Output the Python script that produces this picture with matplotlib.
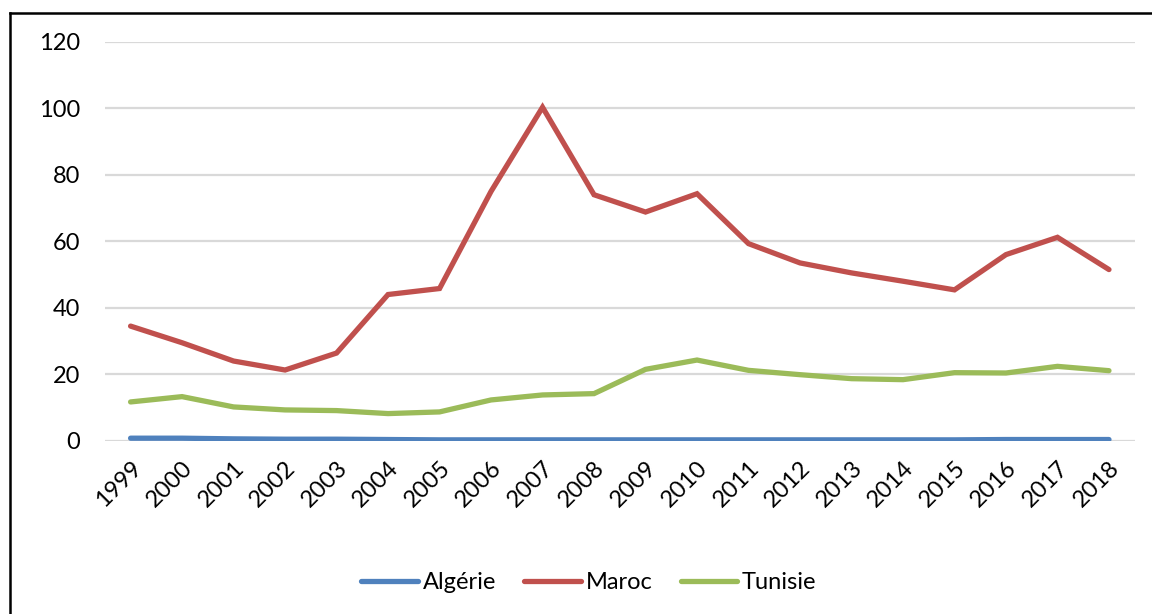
import matplotlib

matplotlib.use("Agg")
import matplotlib.pyplot as plt
from matplotlib.lines import Line2D

years = [str(y) for y in range(1999, 2019)]
algerie = [0.8, 0.8, 0.6, 0.5, 0.5, 0.4, 0.3, 0.3, 0.3, 0.3,
           0.3, 0.3, 0.3, 0.3, 0.3, 0.3, 0.3, 0.4, 0.4, 0.4]
maroc = [34.5, 29.5, 24.0, 21.3, 26.4, 44.0, 45.8, 75.0, 100.3, 74.0,
         68.8, 74.3, 59.3, 53.5, 50.5, 48.0, 45.4, 56.0, 61.2, 51.5]
tunisie = [11.7, 13.3, 10.2, 9.3, 9.1, 8.2, 8.7, 12.3, 13.8, 14.2,
           21.5, 24.3, 21.2, 19.9, 18.7, 18.4, 20.5, 20.4, 22.4, 21.1]

series = [("Algérie", algerie, "#4f81bd"),
          ("Maroc", maroc, "#c0504d"),
          ("Tunisie", tunisie, "#9bbb59")]

plt.rcParams["font.family"] = ["Lato", "DejaVu Sans"]
FS = 17

fig = plt.figure(figsize=(11.52, 6.14), dpi=100)
ax = fig.add_axes([0.091, 0.282, 0.894, 0.650])

x = range(len(years))
for name, values, color in series:
    ax.plot(x, values, color=color, lw=3.8, label=name, solid_capstyle="round",
            solid_joinstyle="miter")

ax.set_ylim(0, 120)
ax.set_yticks(range(0, 121, 20))
ax.set_xlim(-0.5, len(years) - 0.5)
ax.set_xticks(list(x))
ax.set_xticklabels(years, rotation=45, ha="right", rotation_mode="anchor")
ax.tick_params(axis="both", length=0, labelsize=FS, colors="black")
ax.tick_params(axis="x", pad=12)
ax.tick_params(axis="y", pad=18)
ax.grid(axis="y", color="#d9d9d9", lw=1.6)
ax.set_axisbelow(True)
for spine in ax.spines.values():
    spine.set_visible(False)

ax.legend(loc="center", bbox_to_anchor=(0.47, -0.355), ncol=3, frameon=False,
          fontsize=FS, handlelength=2.4, handletextpad=0.2, columnspacing=1.2)

# chart border (top and left edge visible in the reference)
fig.add_artist(Line2D([10 / 1152, 1.0], [1 - 13 / 614, 1 - 13 / 614],
                      transform=fig.transFigure, color="black", lw=1.8))
fig.add_artist(Line2D([10 / 1152, 10 / 1152], [0.0, 1 - 13 / 614],
                      transform=fig.transFigure, color="black", lw=1.8))

fig.savefig("out.png", dpi=100)
